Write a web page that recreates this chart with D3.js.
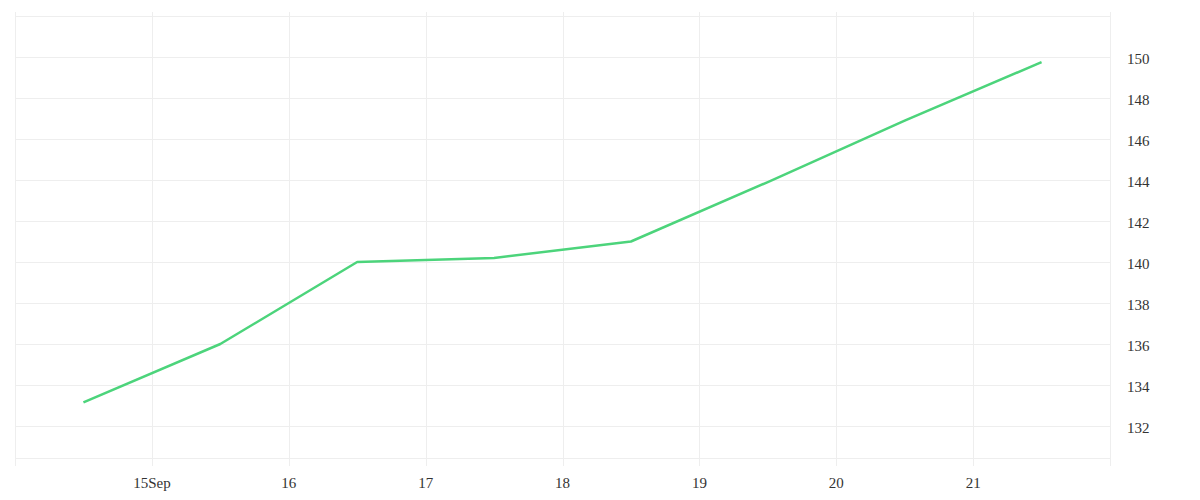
<!DOCTYPE html>
<html>
<head>
<meta charset="utf-8">
<script src="https://cdn.jsdelivr.net/npm/d3@7"></script>
<style>
  html, body { margin: 0; padding: 0; background: #fff; }
  text { font-family: "Liberation Serif", serif; font-size: 15px; fill: #333; }
</style>
</head>
<body>
<div id="chart"></div>
<script>
// Data: daily points at noon, Sep 14 - Sep 21
const dates = ["2023-09-14T12:00", "2023-09-15T12:00", "2023-09-16T12:00", "2023-09-17T12:00",
               "2023-09-18T12:00", "2023-09-19T12:00", "2023-09-20T12:00", "2023-09-21T12:00"];
const values = [133.15, 136.0, 140.0, 140.2, 141.0, 143.9, 146.9, 149.75];
const priceTicks = [132, 134, 136, 138, 140, 142, 144, 146, 148, 150];
const dayTickLabels = ["15Sep", "16", "17", "18", "19", "20", "21"];

const width = 1200;
const height = 500;
const plotLeft = 15, plotRight = 1110, plotTop = 16, plotBottom = 458;

const parse = d3.timeParse("%Y-%m-%dT%H:%M");
const data = dates.map((d, i) => ({ date: parse(d), value: values[i] }));

const svg = d3.select("#chart")
  .append("svg")
    .attr("width", width)
    .attr("height", height);

const x = d3.scaleTime()
    .domain([new Date(2023, 8, 14), new Date(2023, 8, 22)])
    .range([plotLeft, plotRight]);

const y = d3.scaleLinear()
    .domain([130.44, 152])
    .range([plotBottom, plotTop]);

const crisp = v => Math.round(v) + 0.5;
const grid = "#eeeeee";

// horizontal grid lines (plus top/bottom borders)
const hLines = [152].concat(priceTicks).map(v => y(v)).concat([plotBottom]);
svg.append("g")
  .selectAll("line")
  .data(hLines)
  .enter().append("line")
    .attr("x1", plotLeft)
    .attr("x2", plotRight)
    .attr("y1", d => crisp(d))
    .attr("y2", d => crisp(d))
    .attr("stroke", grid);

// vertical grid lines, one per day
const days = d3.timeDay.range(new Date(2023, 8, 14), new Date(2023, 8, 23));
svg.append("g")
  .selectAll("line")
  .data(days)
  .enter().append("line")
    .attr("x1", d => crisp(x(d)))
    .attr("x2", d => crisp(x(d)))
    .attr("y1", plotTop - 4)
    .attr("y2", plotBottom + 8)
    .attr("stroke", grid);

// price labels on the right
svg.append("g")
  .selectAll("text")
  .data(priceTicks)
  .enter().append("text")
    .attr("x", plotRight + 17)
    .attr("y", d => y(d) + 7)
    .text(d => d);

// date labels
const labelDays = days.slice(1, 8);
svg.append("g")
  .selectAll("text")
  .data(labelDays)
  .enter().append("text")
    .attr("x", d => x(d))
    .attr("y", 488)
    .attr("text-anchor", "middle")
    .text((d, i) => dayTickLabels[i]);

// the line
const line = d3.line()
    .x(d => x(d.date))
    .y(d => y(d.value));

svg.append("path")
    .datum(data)
    .attr("fill", "none")
    .attr("stroke", "#4cd47b")
    .attr("stroke-width", 2.5)
    .attr("stroke-linejoin", "round")
    .attr("d", line);
</script>
</body>
</html>
